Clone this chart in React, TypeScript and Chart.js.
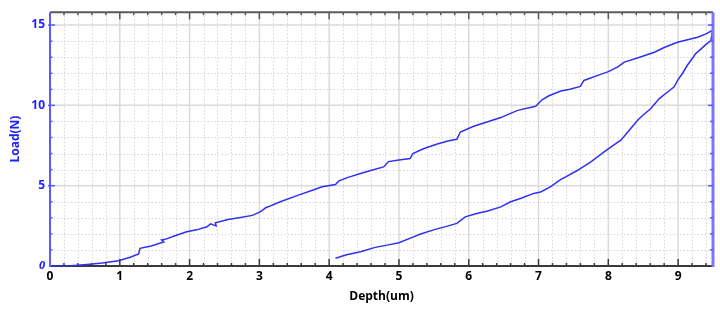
import React, { useEffect, useRef } from "react";
import { Chart, registerables } from "chart.js";

Chart.register(...registerables);

// Loading curve (depth um, load N)
const loadDepth = [
  0, 0.3, 0.53, 0.75, 0.98, 1.15, 1.27, 1.29, 1.45, 1.63, 1.6, 1.65, 1.8, 1.96, 2.1, 2.25, 2.3, 2.38, 2.37,
  2.55, 2.73, 2.9, 3.01, 3.11, 3.08, 3.3, 3.56, 3.75, 3.9, 4.09, 4.14, 4.26, 4.45, 4.62, 4.78, 4.85, 5.0,
  5.16, 5.2, 5.35, 5.55, 5.7, 5.83, 5.88, 6.07, 6.25, 6.46, 6.6, 6.7, 6.96, 7.05, 7.15, 7.32, 7.45, 7.6,
  7.65, 7.89, 8.0, 8.13, 8.23, 8.45, 8.66, 8.8, 8.99, 9.15, 9.28, 9.4, 9.49, 9.5,
];
const loadForce = [
  0, 0.02, 0.1, 0.18, 0.33, 0.55, 0.75, 1.1, 1.25, 1.5, 1.62, 1.66, 1.9, 2.13, 2.25, 2.44, 2.62, 2.5, 2.69,
  2.9, 3.02, 3.15, 3.37, 3.68, 3.6, 4.0, 4.41, 4.7, 4.93, 5.07, 5.3, 5.5, 5.76, 5.98, 6.17, 6.5, 6.6,
  6.69, 7.0, 7.3, 7.6, 7.78, 7.89, 8.34, 8.7, 8.95, 9.24, 9.5, 9.69, 9.94, 10.35, 10.6, 10.89, 11.0, 11.18,
  11.55, 11.93, 12.1, 12.38, 12.69, 13.0, 13.31, 13.6, 13.93, 14.1, 14.24, 14.45, 14.66, 14.75,
];

// Unloading curve
const unloadDepth = [
  9.5, 9.49, 9.47, 9.4, 9.33, 9.25, 9.2, 9.13, 9.06, 9.0, 8.94, 8.85, 8.73, 8.61, 8.5, 8.42, 8.3, 8.18,
  8.05, 7.94, 7.75, 7.56, 7.39, 7.32, 7.17, 7.03, 6.93, 6.75, 6.6, 6.46, 6.27, 6.1, 5.95, 5.83, 5.67,
  5.52, 5.31, 5.19, 5.0, 4.83, 4.66, 4.45, 4.25, 4.09,
];
const unloadForce = [
  14.75, 14.55, 14.04, 13.8, 13.52, 13.21, 12.9, 12.48, 11.97, 11.6, 11.14, 10.83, 10.42, 9.8, 9.4, 9.07,
  8.45, 7.83, 7.45, 7.1, 6.48, 5.96, 5.55, 5.39, 4.93, 4.61, 4.52, 4.22, 4.0, 3.68, 3.42, 3.25, 3.06,
  2.65, 2.45, 2.28, 1.99, 1.78, 1.45, 1.3, 1.16, 0.89, 0.7, 0.48,
];

const xMin = 0;
const xMax = 9.5;
const yMin = 0;
const yMax = 15.8;
const xLabels = [0, 1, 2, 3, 4, 5, 6, 7, 8, 9];
const yLabels = [0, 5, 10, 15];

const LINE = "rgb(48,48,240)";
const BLUE_TEXT = "rgb(30,30,255)";
const FONT = "'Open Sans', 'DejaVu Sans', sans-serif";

const framePlugin = {
  id: "frame",
  beforeDatasetsDraw(chart: any) {
    const { ctx, chartArea: a, scales } = chart;
    const xs = scales.x;
    const ys = scales.y;
    ctx.save();
    // minor dotted grid
    ctx.strokeStyle = "#d6d6d6";
    ctx.lineWidth = 1;
    ctx.setLineDash([1.5, 2]);
    for (let i = 1; i < Math.round(xMax * 5) + 1; i++) {
      const v = i / 5;
      if (v >= xMax || i % 5 === 0) continue;
      const px = Math.round(xs.getPixelForValue(v)) + 0.5;
      ctx.beginPath();
      ctx.moveTo(px, a.top);
      ctx.lineTo(px, a.bottom);
      ctx.stroke();
    }
    for (let v = 1; v < yMax; v++) {
      if (v % 5 === 0) continue;
      const py = Math.round(ys.getPixelForValue(v)) + 0.5;
      ctx.beginPath();
      ctx.moveTo(a.left, py);
      ctx.lineTo(a.right, py);
      ctx.stroke();
    }
    // major solid grid
    ctx.setLineDash([]);
    ctx.strokeStyle = "#dadada";
    ctx.lineWidth = 1.5;
    for (const v of xLabels) {
      if (v === 0) continue;
      const px = xs.getPixelForValue(v);
      ctx.beginPath();
      ctx.moveTo(px, a.top);
      ctx.lineTo(px, a.bottom);
      ctx.stroke();
    }
    for (const v of yLabels) {
      if (v === 0) continue;
      const py = ys.getPixelForValue(v);
      ctx.beginPath();
      ctx.moveTo(a.left, py);
      ctx.lineTo(a.right, py);
      ctx.stroke();
    }
    // bottom axis with ticks (under the curve)
    ctx.strokeStyle = "#3a3a3a";
    ctx.lineWidth = 2;
    ctx.beginPath();
    ctx.moveTo(a.left, a.bottom);
    ctx.lineTo(a.right, a.bottom);
    ctx.stroke();
    ctx.lineWidth = 1.5;
    for (let i = 1; i <= Math.round(xMax * 5); i++) {
      const v = i / 5;
      if (v >= xMax) continue;
      const px = xs.getPixelForValue(v);
      const len = i % 5 === 0 ? 7 : 3;
      ctx.beginPath();
      ctx.moveTo(px, a.bottom);
      ctx.lineTo(px, a.bottom - len);
      ctx.stroke();
    }
    ctx.restore();
  },
  afterDatasetsDraw(chart: any) {
    const { ctx, chartArea: a, scales } = chart;
    const xs = scales.x;
    const ys = scales.y;
    ctx.save();
    // top border with ticks
    ctx.strokeStyle = "#5a5a5a";
    ctx.lineWidth = 2;
    ctx.beginPath();
    ctx.moveTo(a.left, a.top);
    ctx.lineTo(a.right, a.top);
    ctx.stroke();
    ctx.lineWidth = 1.5;
    for (let i = 1; i <= Math.round(xMax * 5); i++) {
      const v = i / 5;
      if (v >= xMax) continue;
      const px = xs.getPixelForValue(v);
      const len = i % 5 === 0 ? 7 : 3;
      ctx.beginPath();
      ctx.moveTo(px, a.top);
      ctx.lineTo(px, a.top + len);
      ctx.stroke();
    }
    // left axis (blue)
    ctx.strokeStyle = "rgb(90,90,255)";
    ctx.lineWidth = 2;
    ctx.beginPath();
    ctx.moveTo(a.left, a.top);
    ctx.lineTo(a.left, a.bottom + 1);
    ctx.stroke();
    ctx.lineWidth = 1.5;
    for (let v = 1; v < yMax; v++) {
      const py = ys.getPixelForValue(v);
      const len = v % 5 === 0 ? 5 : 2.5;
      ctx.beginPath();
      ctx.moveTo(a.left - (v % 5 === 0 ? 2 : 0), py);
      ctx.lineTo(a.left + len, py);
      ctx.stroke();
    }
    // right axis (blue, thicker)
    ctx.strokeStyle = "rgb(120,120,255)";
    ctx.lineWidth = 3;
    ctx.beginPath();
    ctx.moveTo(a.right, a.top);
    ctx.lineTo(a.right, a.bottom + 1);
    ctx.stroke();
    ctx.lineWidth = 1.5;
    ctx.strokeStyle = "rgb(90,90,255)";
    for (let v = 1; v < yMax; v++) {
      const py = ys.getPixelForValue(v);
      const len = v % 5 === 0 ? 5 : 3;
      ctx.beginPath();
      ctx.moveTo(a.right, py);
      ctx.lineTo(a.right - len, py);
      ctx.stroke();
    }
    ctx.restore();
  },
};

export default function App() {
  const canvasRef = useRef<HTMLCanvasElement | null>(null);

  useEffect(() => {
    document.body.style.margin = "0";
    const canvas = canvasRef.current;
    if (!canvas) return;
    const loadData = loadDepth.map((x, i) => ({ x, y: loadForce[i] }));
    const unloadData = unloadDepth.map((x, i) => ({ x, y: unloadForce[i] }));
    const chart = new Chart(canvas, {
      type: "scatter",
      data: {
        datasets: [
          {
            label: "Loading",
            data: loadData,
            showLine: true,
            borderColor: LINE,
            borderWidth: 1.5,
            pointRadius: 0,
            tension: 0,
            clip: 3,
          },
          {
            label: "Unloading",
            data: unloadData,
            showLine: true,
            borderColor: LINE,
            borderWidth: 1.5,
            pointRadius: 0,
            tension: 0,
            clip: 3,
          },
        ],
      },
      options: {
        responsive: false,
        animation: false,
        devicePixelRatio: 1,
        layout: { padding: { left: 0, right: 7, top: 11, bottom: 0 } },
        plugins: {
          legend: { display: false },
          tooltip: { enabled: false },
        },
        scales: {
          x: {
            type: "linear",
            min: xMin,
            max: xMax,
            grid: { display: false, drawTicks: false },
            border: { display: false },
            ticks: {
              stepSize: 1,
              includeBounds: false,
              autoSkip: false,
              maxRotation: 0,
              padding: 3,
              color: "#000",
              font: { family: FONT, size: 12, weight: "bold" },
              callback: (v: any) => (xLabels.includes(Number(v)) ? String(v) : ""),
            },
            title: {
              display: true,
              text: "Depth(um)",
              color: "#000",
              font: { family: FONT, size: 12, weight: "bold" },
              padding: { top: 0, bottom: 5 },
            },
            afterFit: (s: any) => {
              s.height = 43;
            },
          },
          y: {
            type: "linear",
            min: yMin,
            max: yMax,
            grid: { display: false, drawTicks: false },
            border: { display: false },
            ticks: {
              stepSize: 1,
              includeBounds: false,
              autoSkip: false,
              padding: 5,
              color: BLUE_TEXT,
              font: (c: any) =>
                c.tick && c.tick.value === 0
                  ? { family: FONT, size: 11, weight: "bold", style: "italic" }
                  : { family: FONT, size: 12, weight: "bold" },
              callback: (v: any) => (yLabels.includes(Number(v)) ? String(v) : ""),
            },
            title: {
              display: true,
              text: "Load(N)",
              color: BLUE_TEXT,
              font: { family: FONT, size: 12, weight: "bold" },
              padding: { top: 8, bottom: 0 },
            },
            afterFit: (s: any) => {
              s.width = 50;
            },
          },
        },
      },
      plugins: [framePlugin],
    });
    return () => chart.destroy();
  }, []);

  return (
    <div style={{ width: 720, height: 309, background: "#fff" }}>
      <canvas ref={canvasRef} width={720} height={309} style={{ display: "block" }} />
    </div>
  );
}
